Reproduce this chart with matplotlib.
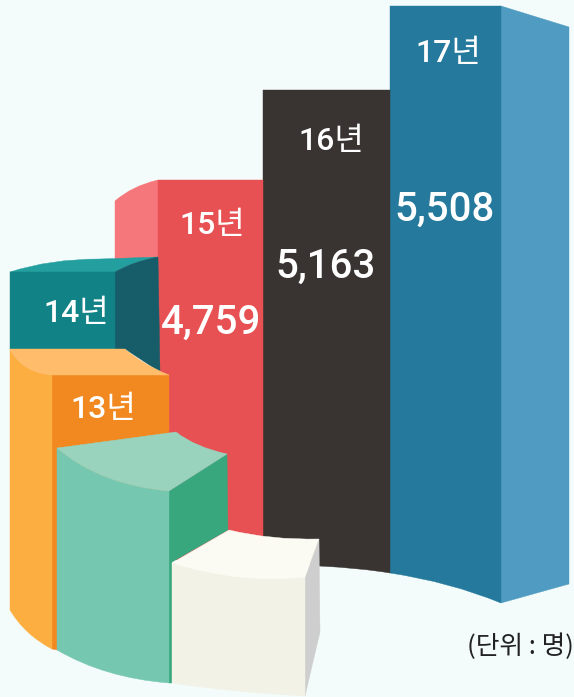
import matplotlib
matplotlib.use("Agg")
import matplotlib.pyplot as plt
from matplotlib.path import Path
from matplotlib.patches import PathPatch

# data
years = ["13년", "14년", "15년", "16년", "17년"]
counts = ["4,759", "5,163", "5,508"]
count_years = ["15년", "16년", "17년"]
unit_label = "(단위 : 명)"

# top edge of the three tall bars, read in pixels
bar_tops = [180, 90, 6]
bar_lefts = [158, 263, 390]
bar_rights = [263, 390, 501]

bg = "#F3FCFB"
font = ["Roboto", "Noto Sans CJK KR"]


def face(ax, color, start, *segs):
    # a seg is (x, y) for a line, (cx, cy, x, y) for a curve
    verts = [start]
    codes = [Path.MOVETO]
    for s in segs:
        if len(s) == 2:
            verts.append(s)
            codes.append(Path.LINETO)
        else:
            verts += [(s[0], s[1]), (s[2], s[3])]
            codes += [Path.CURVE3, Path.CURVE3]
    verts.append(start)
    codes.append(Path.CLOSEPOLY)
    ax.add_patch(PathPatch(Path(verts, codes), facecolor=color, edgecolor=color, lw=0.3))


fig = plt.figure(figsize=(5.74, 6.97), dpi=100, facecolor=bg)
ax = fig.add_axes([0, 0, 1, 1])
ax.set_xlim(0, 574)
ax.set_ylim(697, 0)
ax.axis("off")

# 17
face(ax, "#4F9BC2", (bar_rights[2], bar_tops[2]), (569, 27), (569, 584), (bar_rights[2], 603))
face(ax, "#24799C", (bar_lefts[2], bar_tops[2]), (bar_rights[2], bar_tops[2]), (bar_rights[2], 603),
     (450, 582, bar_lefts[2], 573))
# 16
face(ax, "#393432", (bar_lefts[1], bar_tops[1]), (bar_rights[1], bar_tops[1]), (bar_rights[1], 573),
     (360, 568, 319, 566), (bar_lefts[1], 555))
# 15
face(ax, "#F5767B", (115, 201), (132, 186, bar_lefts[0], bar_tops[0]), (bar_lefts[0], 265), (115, 265))
face(ax, "#E85153", (bar_lefts[0], bar_tops[0]), (bar_rights[0], bar_tops[0]), (bar_rights[0], 560),
     (bar_lefts[0], 560))
# 14
face(ax, "#249F9F", (10, 272), (50, 259, 100, 259), (158, 257), (132, 262, 115, 272))
face(ax, "#175C69", (115, 272), (132, 262, 158, 257), (160, 372), (125, 349), (115, 349))
face(ax, "#118286", (10, 272), (115, 272), (115, 349), (10, 349))
# 13
face(ax, "#F28820", (52, 375), (169, 375), (169, 500), (57, 500), (57, 650), (52, 649))
face(ax, "#FDAE40", (10, 349), (22, 372, 52, 375), (52, 649), (25, 635, 10, 610))
face(ax, "#FFBD6C", (10, 349), (125, 349), (142, 364, 169, 375), (52, 375), (22, 372, 10, 349))
# green block
face(ax, "#38A77E", (169, 491), (227, 454), (228, 530), (172, 562), (172, 683), (169, 683))
face(ax, "#75C7B0", (57, 448), (100, 485, 169, 491), (169, 683), (105, 678, 57, 650))
face(ax, "#9AD3BD", (57, 448), (176, 432), (195, 447, 227, 454), (169, 491), (100, 485, 57, 448))
# white block
face(ax, "#CECECE", (305, 577), (319, 539), (320, 632), (305, 696))
face(ax, "#F2F2E6", (172, 563), (240, 584, 305, 577), (305, 696), (230, 692, 172, 683))
face(ax, "#FBFBF3", (172, 563), (229, 530), (270, 540, 319, 539), (305, 577), (240, 584, 172, 563))

year_xy = {"13년": (103, 409), "14년": (76, 314), "15년": (212, 225), "16년": (331, 141), "17년": (448, 53)}
for y in years:
    ax.text(*year_xy[y], y, color="white", fontsize=23, fontweight="medium", family=font,
            ha="center", va="center")

count_xy = [(211, 323), (325, 267), (445, 210)]
for c, xy in zip(counts, count_xy):
    ax.text(*xy, c, color="white", fontsize=29, fontweight="medium", family=font,
            ha="center", va="center")

ax.text(520, 647, unit_label, color="#222222", fontsize=18.5, family=["Noto Sans CJK KR"],
        ha="center", va="center")

fig.savefig("out.png", dpi=100, facecolor=bg)
